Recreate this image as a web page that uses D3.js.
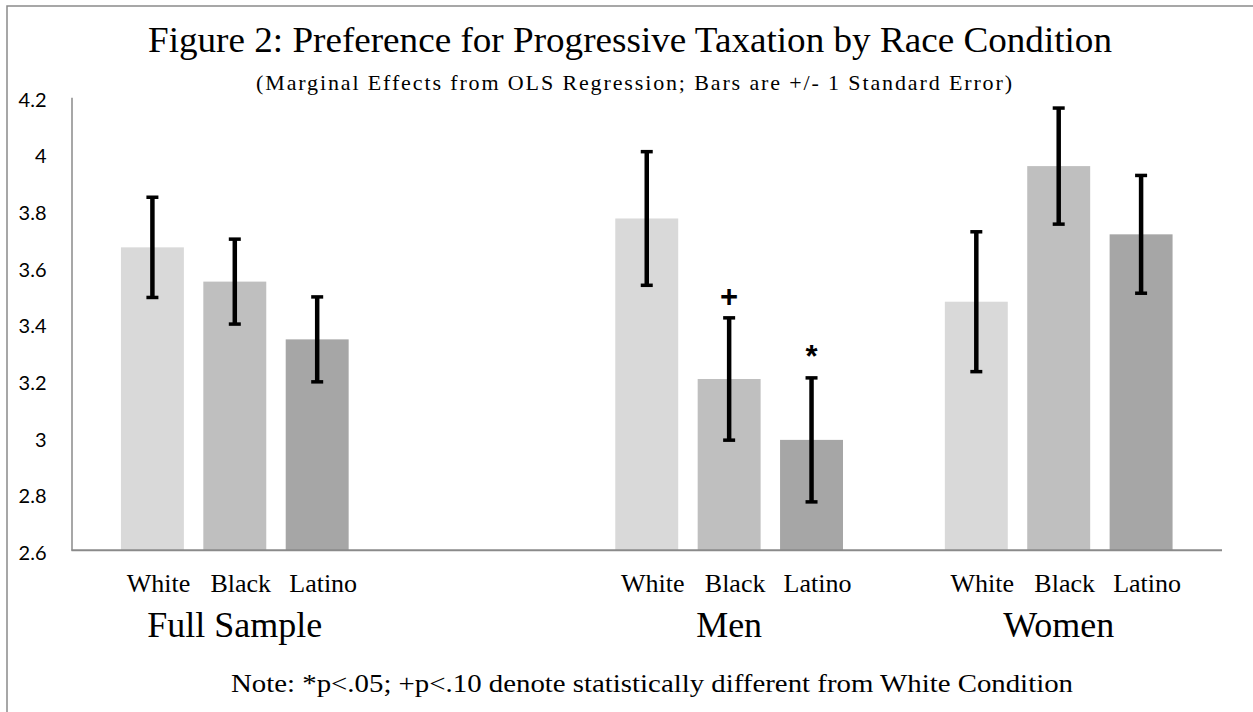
<!DOCTYPE html>
<html>
<head>
<meta charset="utf-8">
<script src="https://cdn.jsdelivr.net/npm/d3@7"></script>
<style>
  html, body { margin: 0; padding: 0; background: #fff; }
  svg { display: block; }
</style>
</head>
<body>
<svg id="chart" width="1253" height="712"></svg>
<script>
// ---- data ----
const groups = ["Full Sample", "Men", "Women"];
const races = ["White", "Black", "Latino"];

const fullMeans  = [3.670, 3.549, 3.345];
const fullSE     = [0.177, 0.150, 0.150];
const menMeans   = [3.772, 3.205, 2.990];
const menSE      = [0.236, 0.216, 0.219];
const womenMeans = [3.478, 3.957, 3.716];
const womenSE    = [0.247, 0.205, 0.208];

// significance flags vs. the White condition
const fullMarks  = ["", "", ""];
const menMarks   = ["", "+", "*"];
const womenMarks = ["", "", ""];

const yTickValues = [2.6, 2.8, 3.0, 3.2, 3.4, 3.6, 3.8, 4.0, 4.2];
const yTickLabels = ["2.6", "2.8", "3", "3.2", "3.4", "3.6", "3.8", "4", "4.2"];

const titleText = "Figure 2: Preference for Progressive Taxation by Race Condition";
const subtitleText = "(Marginal Effects from OLS Regression; Bars are +/- 1 Standard Error)";
const noteText = "Note: *p<.05; +p<.10 denote statistically different from White Condition";

// ---- assemble rows ----
const seriesByGroup = [
  { means: fullMeans,  se: fullSE,  marks: fullMarks },
  { means: menMeans,   se: menSE,   marks: menMarks },
  { means: womenMeans, se: womenSE, marks: womenMarks }
];
const rows = [];
groups.forEach((g, gi) => {
  races.forEach((r, ri) => {
    rows.push({
      group: g, race: r, ri,
      key: g + "|" + r,
      mean: seriesByGroup[gi].means[ri],
      se: seriesByGroup[gi].se[ri],
      mark: seriesByGroup[gi].marks[ri]
    });
  });
});

// empty slots that separate the clusters on the category axis
const spacersAfter = [3, 1, 0];
const slotDomain = [];
groups.forEach((g, gi) => {
  races.forEach(r => slotDomain.push(g + "|" + r));
  for (let s = 0; s < spacersAfter[gi]; s++) slotDomain.push("gap" + gi + "_" + s);
});

// ---- layout ----
const plotLeft = 71.5, plotRight = 1222, plotTop = 97.3, plotBottom = 550.3;
const raceFill = { White: "#d9d9d9", Black: "#bfbfbf", Latino: "#a6a6a6" };
const axisColor = "#8a8a8a";

const svg = d3.select("#chart");

const x = d3.scaleBand()
  .domain(slotDomain)
  .range([plotLeft, plotRight])
  .paddingInner(0.236)
  .paddingOuter(0.6);

const y = d3.scaleLinear()
  .domain([2.6, 4.2])
  .range([plotBottom, plotTop]);

// outer frame
svg.append("rect")
  .attr("x", 7).attr("y", 6)
  .attr("width", 1260).attr("height", 730)
  .attr("fill", "none")
  .attr("stroke", axisColor)
  .attr("stroke-width", 1.5);

// title + subtitle
svg.append("text")
  .attr("x", 148).attr("y", 52)
  .attr("textLength", 964)
  .attr("lengthAdjust", "spacingAndGlyphs")
  .style("font-family", "'Liberation Serif', 'Times New Roman', serif")
  .style("font-size", "36px")
  .attr("fill", "#000")
  .text(titleText);

svg.append("text")
  .attr("x", 256).attr("y", 90)
  .attr("textLength", 756)
  .attr("lengthAdjust", "spacing")
  .style("font-family", "'Liberation Serif', 'Times New Roman', serif")
  .style("font-size", "22px")
  .attr("fill", "#000")
  .text(subtitleText);

// y axis
const yAxis = d3.axisLeft(y)
  .tickValues(yTickValues)
  .tickFormat((d, i) => yTickLabels[i])
  .tickSize(0)
  .tickPadding(25);

const yg = svg.append("g")
  .attr("transform", `translate(${plotLeft},0)`)
  .call(yAxis);
yg.select(".domain").attr("stroke", axisColor).attr("stroke-width", 1.5);
yg.selectAll(".tick text")
  .attr("dy", "0.45em")
  .style("font-family", "Lato, 'Open Sans', sans-serif")
  .style("font-size", "20px")
  .attr("fill", "#000");

// bars
svg.append("g").selectAll("rect")
  .data(rows)
  .join("rect")
  .attr("x", d => x(d.key))
  .attr("width", x.bandwidth())
  .attr("y", d => y(d.mean))
  .attr("height", d => y(2.6) - y(d.mean))
  .attr("fill", d => raceFill[d.race]);

// baseline (category axis)
svg.append("line")
  .attr("x1", plotLeft).attr("x2", plotRight)
  .attr("y1", y(2.6)).attr("y2", y(2.6))
  .attr("stroke", axisColor)
  .attr("stroke-width", 2);

// error bars (+/- 1 SE)
const capHalf = 6;
const eb = svg.append("g").selectAll("g")
  .data(rows)
  .join("g")
  .attr("transform", d => `translate(${x(d.key) + x.bandwidth() / 2},0)`);
eb.append("line")
  .attr("y1", d => y(d.mean + d.se))
  .attr("y2", d => y(d.mean - d.se))
  .attr("stroke", "#000").attr("stroke-width", 4.5);
eb.append("line")
  .attr("x1", -capHalf).attr("x2", capHalf)
  .attr("y1", d => y(d.mean + d.se)).attr("y2", d => y(d.mean + d.se))
  .attr("stroke", "#000").attr("stroke-width", 3.5);
eb.append("line")
  .attr("x1", -capHalf).attr("x2", capHalf)
  .attr("y1", d => y(d.mean - d.se)).attr("y2", d => y(d.mean - d.se))
  .attr("stroke", "#000").attr("stroke-width", 3.5);

// significance markers
svg.append("g").selectAll("text")
  .data(rows.filter(d => d.mark))
  .join("text")
  .attr("x", d => x(d.key) + x.bandwidth() / 2)
  .attr("y", d => y(d.mean + d.se) - 11)
  .attr("text-anchor", "middle")
  .style("font-family", "'Liberation Sans', Arial, sans-serif")
  .style("font-weight", "bold")
  .style("font-size", "31px")
  .attr("fill", "#000")
  .text(d => d.mark);

// race labels under each bar
svg.append("g").selectAll("text")
  .data(rows)
  .join("text")
  .attr("x", d => x(d.key) + x.bandwidth() / 2 + 6)
  .attr("y", 592)
  .attr("text-anchor", "middle")
  .style("font-family", "'Liberation Serif', 'Times New Roman', serif")
  .style("font-size", "26px")
  .attr("fill", "#000")
  .text(d => d.race);

// group labels, centred on each cluster
svg.append("g").selectAll("text")
  .data(groups)
  .join("text")
  .attr("x", g => x(g + "|" + races[1]) + x.bandwidth() / 2)
  .attr("y", 637)
  .attr("text-anchor", "middle")
  .style("font-family", "'Liberation Serif', 'Times New Roman', serif")
  .style("font-size", "36px")
  .attr("fill", "#000")
  .text(g => g);

// footnote
svg.append("text")
  .attr("x", 231).attr("y", 692)
  .attr("textLength", 842)
  .attr("lengthAdjust", "spacingAndGlyphs")
  .style("font-family", "'Liberation Serif', 'Times New Roman', serif")
  .style("font-size", "26px")
  .attr("fill", "#000")
  .text(noteText);
</script>
</body>
</html>
